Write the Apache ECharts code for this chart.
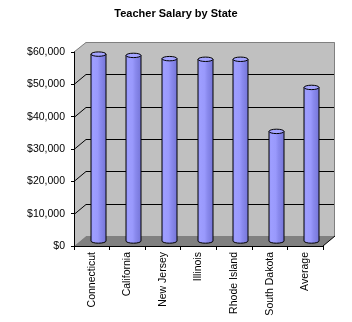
<!DOCTYPE html>
<html>
<head>
<meta charset="utf-8">
<script src="https://cdn.jsdelivr.net/npm/echarts@6/dist/echarts.min.js"></script>
<style>
html,body{margin:0;padding:0;background:#fff;}
#chart{width:352px;height:322px;}
</style>
</head>
<body>
<div id="chart"></div>
<script>
// ---- data ----
var categories = ['Connecticut', 'California', 'New Jersey', 'Illinois', 'Rhode Island', 'South Dakota', 'Average'];
var salaries = [57800, 57400, 56400, 56200, 56200, 33900, 47500];
var yTicks = [0, 10000, 20000, 30000, 40000, 50000, 60000];
var titleText = 'Teacher Salary by State';

// ---- style constants ----
var DX = 12, DY = -10;          // depth offset of the 3D box
var WALL = '#c0c0c0', FLOOR = '#808080', BORDER = '#808080';
var BAR_W = 15, BAR_RY = 2.2;
var FONT = "'Liberation Sans', Arial, sans-serif";

function fmtMoney(v) {
  return '$' + String(v).replace(/\B(?=(\d{3})+(?!\d))/g, ',');
}

function renderWalls(params, api) {
  var cs = params.coordSys;
  var x0 = cs.x, x1 = cs.x + cs.width, yT = cs.y, yB = cs.y + cs.height;
  var ch = [];
  ch.push({ type: 'rect', shape: { x: x0 + DX, y: yT + DY, width: cs.width, height: cs.height },
            style: { fill: WALL } });
  ch.push({ type: 'polygon', shape: { points: [[x0, yB], [x0 + DX, yB + DY], [x0 + DX, yT + DY], [x0, yT]] },
            style: { fill: WALL } });
  var maxV = yTicks[yTicks.length - 1];
  for (var i = 0; i < yTicks.length; i++) {
    var v = yTicks[i];
    if (v === 0 || v === maxV) continue;
    var y = Math.round(api.coord([0, v])[1]) + 0.5;
    ch.push({ type: 'polyline', shape: { points: [[x0, y], [x0 + DX, y + DY], [x1 + DX, y + DY]] },
              style: { stroke: '#000', lineWidth: 1, fill: null } });
  }
  ch.push({ type: 'polyline', shape: { points: [[x0, yT], [x0 + DX, yT + DY + 0.5], [x1 + DX - 0.5, yT + DY + 0.5], [x1 + DX - 0.5, yB + DY]] },
            style: { stroke: BORDER, lineWidth: 1, fill: null } });
  ch.push({ type: 'polygon', shape: { points: [[x0, yB], [x1, yB], [x1 + DX, yB + DY], [x0 + DX, yB + DY]] },
            style: { fill: FLOOR } });
  ch.push({ type: 'line', shape: { x1: x1, y1: yB, x2: x1 + DX, y2: yB + DY },
            style: { stroke: '#000', lineWidth: 1 } });
  return { type: 'group', children: ch };
}

function renderBar(params, api) {
  var idx = api.value(0), val = api.value(1);
  var base = api.coord([idx, 0]);
  var top = api.coord([idx, val]);
  var cx = Math.round(base[0] + DX / 2) + 0.5;
  var by = base[1] + DY / 2;
  var ty = top[1] + DY / 2;
  var rx = BAR_W / 2, ry = BAR_RY;
  var l = cx - rx, r = cx + rx;
  var body = 'M' + l + ' ' + ty + ' L' + l + ' ' + by +
             ' A' + rx + ' ' + ry + ' 0 0 0 ' + r + ' ' + by +
             ' L' + r + ' ' + ty + ' Z';
  var cap = 'M' + l + ' ' + ty + ' A' + rx + ' ' + ry + ' 0 1 0 ' + r + ' ' + ty +
            ' A' + rx + ' ' + ry + ' 0 1 0 ' + l + ' ' + ty + ' Z';
  return {
    type: 'group',
    children: [
      { type: 'path', shape: { pathData: body },
        style: { fill: { type: 'linear', x: 0, y: 0, x2: 1, y2: 0, colorStops: [
          { offset: 0, color: '#8c8cf0' }, { offset: 0.15, color: '#9e9eff' },
          { offset: 0.45, color: '#9999fc' }, { offset: 0.62, color: '#8a8aee' },
          { offset: 1, color: '#7474d6' } ] },
          stroke: '#000', lineWidth: 1 } },
      { type: 'path', shape: { pathData: cap },
        style: { fill: '#a4a4ff', stroke: '#000', lineWidth: 1 } }
    ]
  };
}

var chart = echarts.init(document.getElementById('chart'), null, { renderer: 'canvas' });
chart.setOption({
  animation: false,
  backgroundColor: '#fff',
  title: {
    text: titleText, left: 'center', top: 3,
    textStyle: { fontFamily: FONT, fontSize: 11, fontWeight: 'bold', color: '#000' }
  },
  grid: { left: 74, top: 52, width: 249, height: 194, containLabel: false },
  xAxis: {
    type: 'category', data: categories, z: 10,
    axisLine: { lineStyle: { color: '#000', width: 1 } },
    axisTick: { show: true, length: 4, alignWithLabel: false, lineStyle: { color: '#000' } },
    axisLabel: { rotate: 90, margin: 6, interval: 0, color: '#000', fontFamily: FONT, fontSize: 10.5 },
    splitLine: { show: false }
  },
  yAxis: {
    type: 'value', min: 0, max: 60000, interval: 10000, z: 10,
    axisLine: { show: true, lineStyle: { color: '#000', width: 1 } },
    axisTick: { show: true, length: 3, lineStyle: { color: '#000' } },
    axisLabel: { margin: 9, color: '#000', fontFamily: FONT, fontSize: 10.5, formatter: fmtMoney },
    splitLine: { show: false }
  },
  series: [
    { type: 'custom', z: 1, silent: true, renderItem: renderWalls, data: [[0, 0]] },
    { type: 'custom', z: 5, renderItem: renderBar,
      data: salaries.map(function (v, i) { return [i, v]; }) }
  ]
});
</script>
</body>
</html>
